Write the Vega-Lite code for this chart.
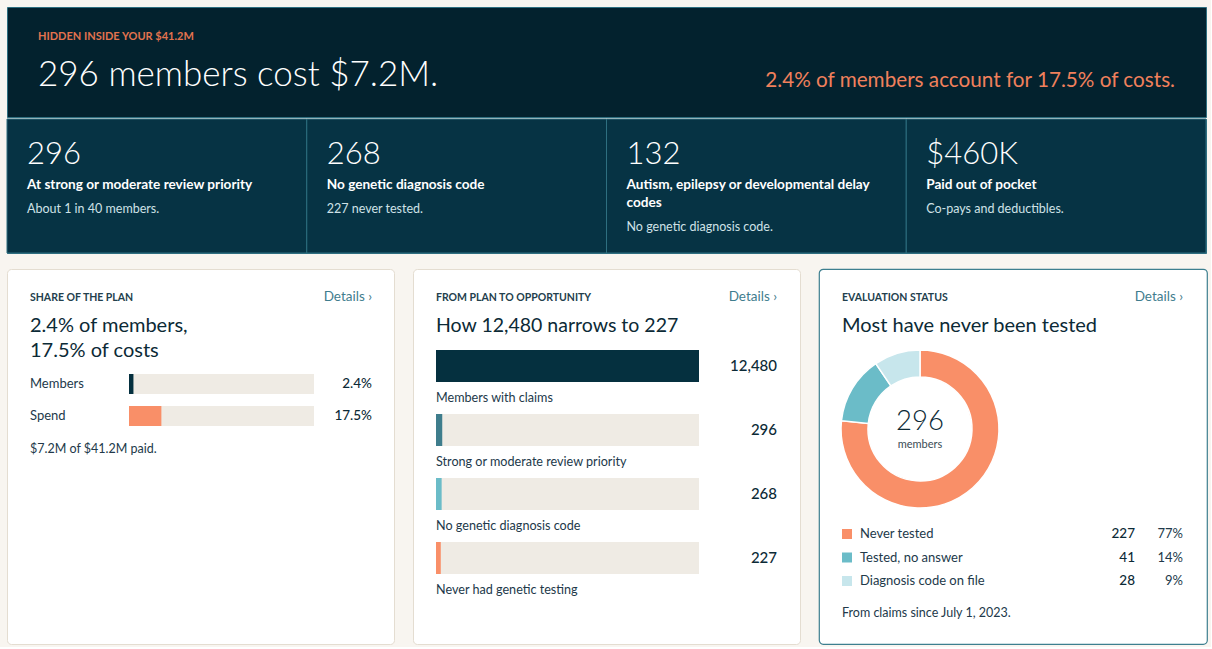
{
  "$schema": "https://vega.github.io/schema/vega-lite/v6.json",
  "background": "#f8f5f0",
  "padding": {"left": 6, "top": 6, "right": 3, "bottom": 2},
  "config": {
    "view": {"stroke": null},
    "font": "Lato",
    "text": {"font": "Lato", "baseline": "alphabetic", "align": "left"}
  },
  "datasets": {
    "banner": [
      {"eyebrow": "HIDDEN INSIDE YOUR $41.2M", "headline": "296 members cost $7.2M.", "finding": "2.4% of members account for 17.5% of costs."}
    ],
    "kpis": [
      {"kpi": "priority", "value": "296", "label": "At strong or moderate review priority", "lines": 1, "note": "About 1 in 40 members."},
      {"kpi": "no_code", "value": "268", "label": "No genetic diagnosis code", "lines": 1, "note": "227 never tested."},
      {"kpi": "neuro", "value": "132", "label": "Autism, epilepsy or developmental delay\ncodes", "lines": 2, "note": "No genetic diagnosis code."},
      {"kpi": "oop", "value": "$460K", "label": "Paid out of pocket", "lines": 1, "note": "Co-pays and deductibles."}
    ],
    "cards": [
      {"card": "share", "eyebrow": "SHARE OF THE PLAN", "link": "Details ›", "headline": "2.4% of members,\n17.5% of costs", "note": "$7.2M of $41.2M paid."},
      {"card": "funnel", "eyebrow": "FROM PLAN TO OPPORTUNITY", "link": "Details ›", "headline": "How 12,480 narrows to 227", "note": ""},
      {"card": "status", "eyebrow": "EVALUATION STATUS", "link": "Details ›", "headline": "Most have never been tested", "note": "From claims since July 1, 2023.", "unit": "members"}
    ],
    "share": [
      {"metric": "Members", "pct": 2.4, "label": "2.4%"},
      {"metric": "Spend", "pct": 17.5, "label": "17.5%"}
    ],
    "funnel": [
      {"stage": "Members with claims", "count": 12480},
      {"stage": "Strong or moderate review priority", "count": 296},
      {"stage": "No genetic diagnosis code", "count": 268},
      {"stage": "Never had genetic testing", "count": 227}
    ],
    "status": [
      {"status": "Never tested", "count": 227, "share": "77%"},
      {"status": "Tested, no answer", "count": 41, "share": "14%"},
      {"status": "Diagnosis code on file", "count": 28, "share": "9%"}
    ]
  },
  "spacing": 14,
  "resolve": {"scale": {"x": "independent", "y": "independent", "color": "independent"}},
  "vconcat": [
    {
      "spacing": 0,
      "resolve": {"scale": {"x": "independent", "y": "independent"}},
      "vconcat": [
        {
          "width": 1199,
          "height": 110,
          "view": {"fill": "#03222e", "stroke": "#2e6f80", "strokeWidth": 1},
          "data": {"name": "banner"},
          "layer": [
            {
              "mark": {"type": "text", "fontSize": 11, "fontWeight": 700, "color": "#e2734f"},
              "encoding": {"text": {"field": "eyebrow"}, "x": {"value": 31}, "y": {"value": 33}}
            },
            {
              "mark": {"type": "text", "fontSize": 35, "fontWeight": 300, "color": "#ffffff"},
              "encoding": {"text": {"field": "headline"}, "x": {"value": 31}, "y": {"value": 79}}
            },
            {
              "mark": {"type": "text", "fontSize": 20.7, "fontWeight": 400, "color": "#f0805c", "align": "right"},
              "encoding": {"text": {"field": "finding"}, "x": {"value": 1168}, "y": {"value": 80}}
            }
          ]
        },
        {
          "width": 1199,
          "height": 134,
          "view": {"fill": "#063344", "stroke": "#2e6f80", "strokeWidth": 1},
          "data": {"name": "kpis"},
          "layer": [
            {
              "mark": {"type": "rect", "fill": "#063344", "stroke": "#2e6f80", "strokeWidth": 1},
              "encoding": {
                "x": {"field": "kpi", "type": "nominal", "sort": null, "scale": {"type": "band", "range": [0, 1199], "paddingInner": 0, "paddingOuter": 0}, "axis": null}
              }
            },
            {
              "mark": {"type": "text", "fontSize": 31, "fontWeight": 300, "color": "#ffffff", "dx": 20},
              "encoding": {
                "x": {"field": "kpi", "type": "nominal", "sort": null, "bandPosition": 0},
                "y": {"value": 45},
                "text": {"field": "value"}
              }
            },
            {
              "mark": {"type": "text", "fontSize": 13.6, "fontWeight": 700, "color": "#ffffff", "dx": 20, "lineBreak": "\n", "lineHeight": 17.5},
              "encoding": {
                "x": {"field": "kpi", "type": "nominal", "sort": null, "bandPosition": 0},
                "y": {"value": 70},
                "text": {"field": "label"}
              }
            },
            {
              "mark": {"type": "text", "fontSize": 12.5, "fontWeight": 400, "color": "#cfe2e7", "dx": 20},
              "encoding": {
                "x": {"field": "kpi", "type": "nominal", "sort": null, "bandPosition": 0},
                "y": {"field": "lines", "type": "quantitative", "scale": {"domain": [1, 2], "range": [94, 112]}, "axis": null},
                "text": {"field": "note"}
              }
            }
          ]
        }
      ]
    },
    {
      "spacing": 17,
      "resolve": {"scale": {"x": "independent", "y": "independent", "color": "independent"}},
      "hconcat": [
        {
          "width": 387,
          "height": 375,
          "view": {"fill": "#ffffff", "stroke": "#e4ddd1", "strokeWidth": 1, "cornerRadius": 4},
          "layer": [
            {
              "data": {"name": "cards"},
              "transform": [{"filter": "datum.card === 'share'"}],
              "layer": [
                {
                  "mark": {"type": "text", "fontSize": 10.5, "fontWeight": 700, "color": "#23404d"},
                  "encoding": {"text": {"field": "eyebrow"}, "x": {"value": 23}, "y": {"value": 32}}
                },
                {
                  "mark": {"type": "text", "fontSize": 13.5, "color": "#3f7d8e", "align": "right"},
                  "encoding": {"text": {"field": "link"}, "x": {"value": 365}, "y": {"value": 32}}
                },
                {
                  "mark": {"type": "text", "fontSize": 20, "color": "#0c2a36", "lineBreak": "\n", "lineHeight": 24.5},
                  "encoding": {"text": {"field": "headline"}, "x": {"value": 23}, "y": {"value": 63}}
                },
                {
                  "mark": {"type": "text", "fontSize": 12.5, "color": "#22394a"},
                  "encoding": {"text": {"field": "note"}, "x": {"value": 23}, "y": {"value": 184}}
                }
              ]
            },
            {
              "data": {"name": "share"},
              "encoding": {
                "y": {"field": "metric", "type": "nominal", "sort": null, "scale": {"type": "band", "range": [105, 157], "paddingInner": 0.375, "paddingOuter": 0}, "axis": null}
              },
              "layer": [
                {
                  "mark": {"type": "bar", "color": "#efebe4"},
                  "encoding": {"x": {"datum": 100, "type": "quantitative", "scale": {"domain": [0, 100], "range": [122, 307], "nice": false}, "axis": null}}
                },
                {
                  "mark": {"type": "bar"},
                  "encoding": {
                    "x": {"field": "pct", "type": "quantitative", "stack": null},
                    "color": {"field": "metric", "type": "nominal", "scale": {"domain": ["Members", "Spend"], "range": ["#05303f", "#f98f68"]}, "legend": null}
                  }
                },
                {
                  "mark": {"type": "text", "fontSize": 13, "color": "#22394a", "baseline": "middle"},
                  "encoding": {"text": {"field": "metric"}, "x": {"value": 23}}
                },
                {
                  "mark": {"type": "text", "fontSize": 13.5, "fontWeight": 500, "color": "#0c2a36", "baseline": "middle", "align": "right"},
                  "encoding": {"text": {"field": "label"}, "x": {"value": 365}}
                }
              ]
            }
          ]
        },
        {
          "width": 387,
          "height": 375,
          "view": {"fill": "#ffffff", "stroke": "#e4ddd1", "strokeWidth": 1, "cornerRadius": 4},
          "layer": [
            {
              "data": {"name": "cards"},
              "transform": [{"filter": "datum.card === 'funnel'"}],
              "layer": [
                {
                  "mark": {"type": "text", "fontSize": 10.5, "fontWeight": 700, "color": "#23404d"},
                  "encoding": {"text": {"field": "eyebrow"}, "x": {"value": 23}, "y": {"value": 32}}
                },
                {
                  "mark": {"type": "text", "fontSize": 13.5, "color": "#3f7d8e", "align": "right"},
                  "encoding": {"text": {"field": "link"}, "x": {"value": 364}, "y": {"value": 32}}
                },
                {
                  "mark": {"type": "text", "fontSize": 19.5, "color": "#0c2a36"},
                  "encoding": {"text": {"field": "headline"}, "x": {"value": 23}, "y": {"value": 63}}
                }
              ]
            },
            {
              "data": {"name": "funnel"},
              "encoding": {
                "y": {"field": "stage", "type": "nominal", "sort": null, "scale": {"type": "band", "range": [81, 305], "paddingInner": 0.5, "paddingOuter": 0}, "axis": null}
              },
              "layer": [
                {
                  "mark": {"type": "bar", "color": "#efebe4"},
                  "encoding": {"x": {"datum": 12480, "type": "quantitative", "scale": {"domain": [0, 12480], "range": [23, 286], "nice": false, "zero": true}, "axis": null}}
                },
                {
                  "mark": {"type": "bar"},
                  "encoding": {
                    "x": {"field": "count", "type": "quantitative", "stack": null},
                    "color": {"field": "stage", "type": "nominal", "sort": null, "scale": {"domain": ["Members with claims", "Strong or moderate review priority", "No genetic diagnosis code", "Never had genetic testing"], "range": ["#05303f", "#3e7d8c", "#6bbcc8", "#f98f68"]}, "legend": null}
                  }
                },
                {
                  "mark": {"type": "text", "fontSize": 15, "fontWeight": 500, "color": "#0c2a36", "baseline": "middle", "align": "right"},
                  "encoding": {"text": {"field": "count", "type": "quantitative", "format": ","}, "x": {"value": 364}}
                },
                {
                  "mark": {"type": "text", "fontSize": 12.6, "color": "#22394a", "dy": 52},
                  "encoding": {
                    "text": {"field": "stage"},
                    "x": {"value": 23},
                    "y": {"field": "stage", "type": "nominal", "sort": null, "bandPosition": 0}
                  }
                }
              ]
            }
          ]
        },
        {
          "width": 388,
          "height": 375,
          "view": {"fill": "#ffffff", "stroke": "#3d7f8f", "strokeWidth": 1.2, "cornerRadius": 4},
          "layer": [
            {
              "data": {"name": "cards"},
              "transform": [{"filter": "datum.card === 'status'"}],
              "layer": [
                {
                  "mark": {"type": "text", "fontSize": 10.5, "fontWeight": 700, "color": "#23404d"},
                  "encoding": {"text": {"field": "eyebrow"}, "x": {"value": 23}, "y": {"value": 32}}
                },
                {
                  "mark": {"type": "text", "fontSize": 13.5, "color": "#3f7d8e", "align": "right"},
                  "encoding": {"text": {"field": "link"}, "x": {"value": 364}, "y": {"value": 32}}
                },
                {
                  "mark": {"type": "text", "fontSize": 20, "color": "#0c2a36"},
                  "encoding": {"text": {"field": "headline"}, "x": {"value": 23}, "y": {"value": 63}}
                },
                {
                  "mark": {"type": "text", "fontSize": 12.5, "color": "#22394a"},
                  "encoding": {"text": {"field": "note"}, "x": {"value": 23}, "y": {"value": 348}}
                },
                {
                  "mark": {"type": "text", "fontSize": 11, "color": "#3a4c55", "align": "center"},
                  "encoding": {"text": {"field": "unit"}, "x": {"value": 101}, "y": {"value": 179}}
                }
              ]
            },
            {
              "data": {"name": "status"},
              "mark": {"type": "arc", "outerRadius": 79, "innerRadius": 52, "stroke": "#ffffff", "strokeWidth": 1.5},
              "encoding": {
                "theta": {"field": "count", "type": "quantitative"},
                "order": {"field": "count", "type": "quantitative", "sort": "descending"},
                "color": {"field": "status", "type": "nominal", "sort": null, "scale": {"domain": ["Never tested", "Tested, no answer", "Diagnosis code on file"], "range": ["#f98f68", "#6bbcc8", "#c7e6ec"]}, "legend": null},
                "x": {"value": 101},
                "y": {"value": 160}
              }
            },
            {
              "data": {"name": "status"},
              "transform": [{"aggregate": [{"op": "sum", "field": "count", "as": "total"}]}],
              "mark": {"type": "text", "fontSize": 27.5, "fontWeight": 300, "color": "#0c2a36", "align": "center"},
              "encoding": {"text": {"field": "total", "type": "quantitative"}, "x": {"value": 101}, "y": {"value": 161}}
            },
            {
              "data": {"name": "status"},
              "encoding": {
                "y": {"field": "status", "type": "nominal", "sort": null, "scale": {"type": "point", "range": [265, 312], "padding": 0}, "axis": null}
              },
              "layer": [
                {
                  "mark": {"type": "square", "size": 100, "opacity": 1, "filled": true},
                  "encoding": {"x": {"value": 28}, "color": {"field": "status", "type": "nominal", "sort": null, "legend": null}}
                },
                {
                  "mark": {"type": "text", "fontSize": 13, "color": "#22394a", "baseline": "middle"},
                  "encoding": {"text": {"field": "status"}, "x": {"value": 41}}
                },
                {
                  "mark": {"type": "text", "fontSize": 13.5, "fontWeight": 500, "color": "#0c2a36", "baseline": "middle", "align": "right"},
                  "encoding": {"text": {"field": "count", "type": "quantitative"}, "x": {"value": 316}}
                },
                {
                  "mark": {"type": "text", "fontSize": 13, "color": "#22394a", "baseline": "middle", "align": "right"},
                  "encoding": {"text": {"field": "share"}, "x": {"value": 364}}
                }
              ]
            }
          ]
        }
      ]
    }
  ]
}
